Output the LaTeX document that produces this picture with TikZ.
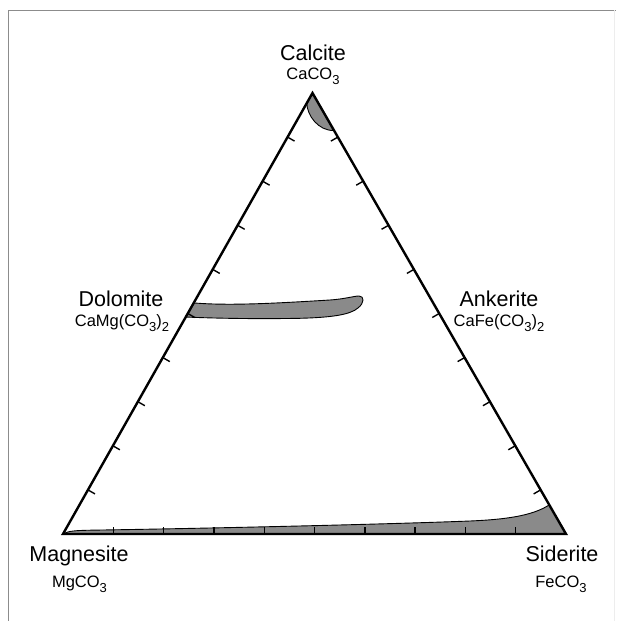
\documentclass[tikz,border=0pt]{standalone}
\usepackage{fontspec}
\setmainfont{Liberation Sans}
\usepackage{tikz}
\usetikzlibrary{calc}
\definecolor{fieldgray}{HTML}{8A8A8A}
\definecolor{framegray}{HTML}{8C8C8C}
\tikzset{
  mineral/.style={font=\fontsize{21.5}{24}\selectfont, anchor=base},
  formula/.style={font=\fontsize{16.5}{18}\selectfont, anchor=base},
  field/.style={fill=fieldgray, draw=black, line width=0.9pt},
  tick/.style={line width=1.4pt}
}
\newcommand{\sub}[1]{\raisebox{-0.32em}{\fontsize{13}{13}\selectfont #1}}

\begin{document}
\begin{tikzpicture}[x=1pt, y=-1pt]
\useasboundingbox (0,0) rectangle (616,621);
% frame
\draw[framegray, line width=0.8pt] (8,621) -- (8,10) -- (616,10);
\draw[black!7, line width=1pt] (614,10) -- (614,621);
% end members
\coordinate (C) at (312.5,93); \coordinate (M) at (63,534); \coordinate (S) at (566,534);
% fields
\fill[field] (C) -- ($(C)!0.023!(M)$) .. controls (307,115) and (318,131) .. ($(C)!0.085!(S)$) -- cycle;
\fill[field] ($(C)!0.476!(M)$) .. controls (230,306) and (280,303) .. (330,300)
  .. controls (345,299) and (354,296) .. (359,296) .. controls (364.5,296) and (364.5,303) .. (358,308)
  .. controls (350,315) and (330,317.5) .. (300,318.3) .. controls (260,319) and (220,318.5) .. ($(C)!0.508!(M)$) -- cycle;
\fill[field] (M) .. controls (68,531) and (75,530.5) .. (90,530.2)
  .. controls (200,528.5) and (380,524.5) .. (470,521) .. controls (505,519.5) and (532,516) .. ($(S)!0.066!(C)$)
  -- (S) -- cycle;
% triangle
\draw[line width=2.4pt, line join=miter] (C) -- (M) -- (S) -- cycle;
\foreach \i in {1,...,9} {
  \draw[tick] ($(M)!\i/10!(S)$) -- ++(0,-7.5);
  \draw[tick] ($(M)!\i/10!(C)$) -- ++(7,4);
  \draw[tick] ($(S)!\i/10!(C)$) -- ++(-7,4);
}
% labels
\node[mineral] (calcite) at (313,60.7) {Calcite};
\node[formula] (calciteF) at (313,79.3) {CaCO\sub{3}};
\node[mineral] (dolomite) at (121,306) {Dolomite};
\node[formula] (dolomiteF) at (122,326) {CaMg(CO\sub{3})\sub{2}};
\node[mineral] (ankerite) at (499,306.5) {Ankerite};
\node[formula] (ankeriteF) at (499,326.5) {CaFe(CO\sub{3})\sub{2}};
\node[mineral] (magnesite) at (79,561.7) {Magnesite};
\node[formula] (magnesiteF) at (79.5,587) {MgCO\sub{3}};
\node[mineral] (siderite) at (562,561.7) {Siderite};
\node[formula] (sideriteF) at (561,587) {FeCO\sub{3}};
\end{tikzpicture}
\end{document}
